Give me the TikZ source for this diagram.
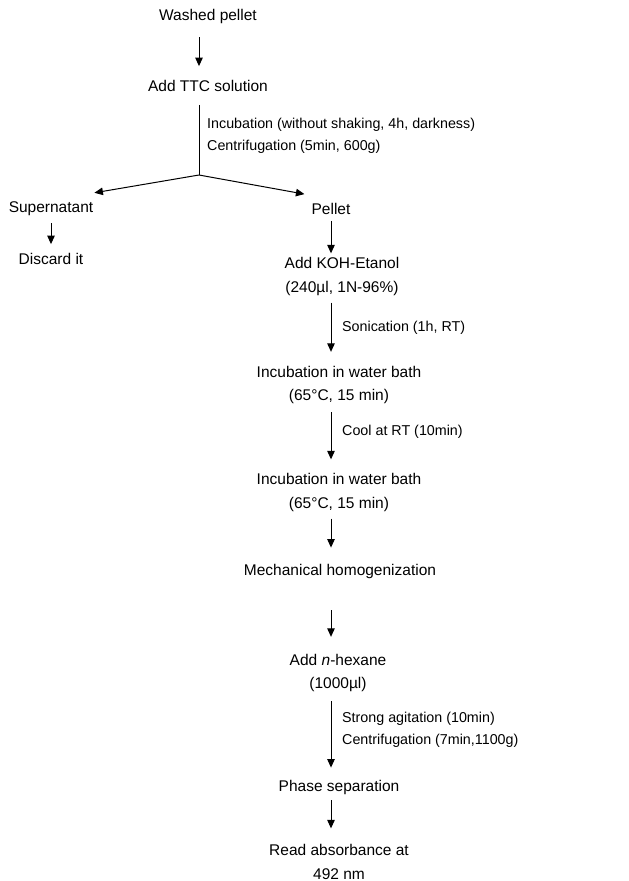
\documentclass[tikz,border=0pt]{standalone}
\usepackage{fontspec}
\setmainfont{Liberation Sans}
\usetikzlibrary{arrows.meta}
\begin{document}
\begin{tikzpicture}[x=1pt,y=-1pt,
  stage/.style={font=\fontsize{15.5}{23.5}\selectfont, inner sep=0pt, align=center},
  note/.style={font=\fontsize{14.3}{22}\selectfont, inner sep=0pt, anchor=west, align=left},
  flow/.style={line width=1pt, -{Triangle[length=8.5pt,width=7.5pt]}},
  link/.style={line width=1pt}]
\useasboundingbox (0,0) rectangle (629,881);

% vertical axes of the three columns
\coordinate (axT) at (199,0);
\coordinate (axL) at (51,0);
\coordinate (axR) at (331,0);
\coordinate (j) at (199,175);

% steps
\node[stage] (washed) at (208,16) {Washed pellet};
\node[stage] (ttc) at (208,86) {Add TTC solution};
\node[stage] (sup) at (51,209) {Supernatant};
\node[stage] (pellet) at (331,209) {Pellet};
\node[stage] (discard) at (51,259) {Discard it};
\node[stage] (koh) at (342,276.5) {Add KOH-Etanol\\(240µl, 1N-96\%)};
\node[stage] (inc1) at (339,385) {Incubation in water bath\\(65°C, 15 min)};
\node[stage] (inc2) at (339,492.5) {Incubation in water bath\\(65°C, 15 min)};
\node[stage] (mech) at (340,571) {Mechanical homogenization};
\node[stage] (hex) at (338,673) {Add \textit{n}-hexane\\(1000µl)};
\node[stage] (phase) at (339,787) {Phase separation};
\node[stage] (read) at (339,862) {Read absorbance at\\492 nm};

% conditions beside the arrows
\node[note] (c1) at (207,136) {Incubation (without shaking, 4h, darkness)\\Centrifugation (5min, 600g)};
\node[note] (c2) at (342,328) {Sonication (1h, RT)};
\node[note] (c3) at (342,432) {Cool at RT (10min)};
\node[note] (c4) at (342,730) {Strong agitation (10min)\\Centrifugation (7min,1100g)};

% connectors
\draw[flow, shorten <=14pt, shorten >=14pt] (washed.south -| axT) -- (ttc.north -| axT);
\draw[link, shorten <=13pt] (ttc.south -| axT) -- (j);
\draw[flow] (j) -- ([shift={(1pt,9pt)}]sup.north east);
\draw[flow] (j) -- ([shift={(-7pt,9pt)}]pellet.north west);
\draw[flow, shorten <=7pt, shorten >=9pt] (sup.south -| axL) -- (discard.north -| axL);
\draw[flow, shorten <=6pt, shorten >=4pt] (pellet.south -| axR) -- (koh.north -| axR);
\draw[flow, shorten <=7pt, shorten >=14pt] (koh.south -| axR) -- (inc1.north -| axR);
\draw[flow, shorten <=8pt, shorten >=14pt] (inc1.south -| axR) -- (inc2.north -| axR);
\draw[flow, shorten <=7pt, shorten >=16pt] (inc2.south -| axR) -- (mech.north -| axR);
\draw[flow, shorten <=32pt, shorten >=17pt] (mech.south -| axR) -- (hex.north -| axR);
\draw[flow, shorten <=9pt, shorten >=12pt] (hex.south -| axR) -- (phase.north -| axR);
\draw[flow, shorten <=6pt, shorten >=16pt] (phase.south -| axR) -- (read.north -| axR);
\end{tikzpicture}
\end{document}
